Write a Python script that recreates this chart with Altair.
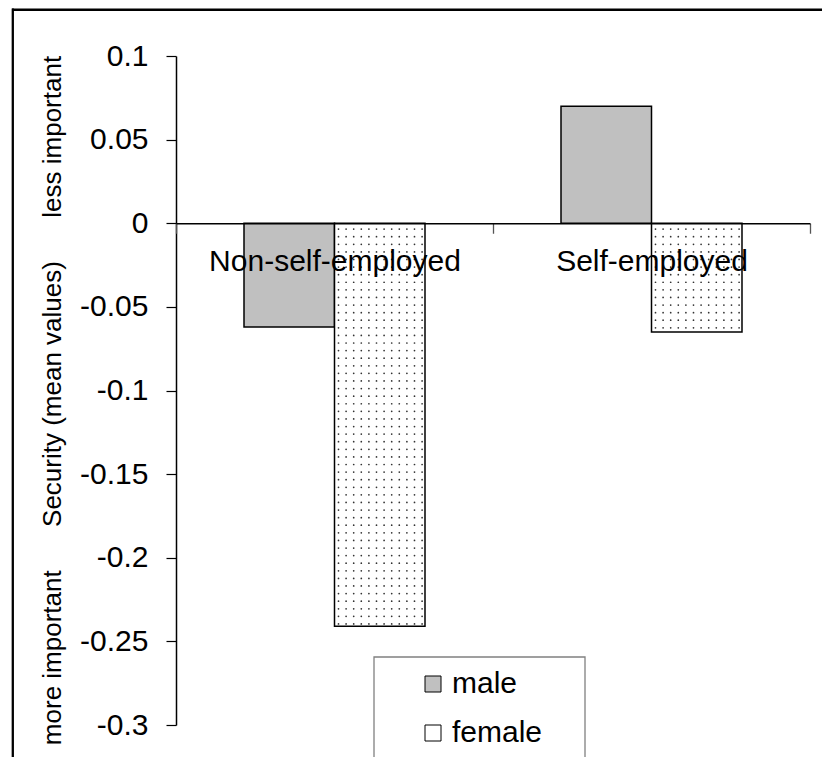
import altair as alt
import pandas as pd

# ---- data ----
groups = ["Non-self-employed", "Self-employed"]
genders = ["male", "female"]
male_values = [-0.062, 0.070]
female_values = [-0.241, -0.065]
y_ticks = [0.1, 0.05, 0, -0.05, -0.1, -0.15, -0.2, -0.25, -0.3]
y_domain = [-0.3, 0.1]

rows = []
for g, m, f in zip(groups, male_values, female_values):
    rows.append({"group": g, "gender": "male", "value": m})
    rows.append({"group": g, "gender": "female", "value": f})
df = pd.DataFrame(rows)

FONT = "Liberation Sans"
W, H = 634, 669
BAND = W / 2
NB = "\u00a0"
title_text = "more important" + NB * 6 + "Security (mean values)" + NB * 6 + "less important"

x_axis = alt.Axis(
    orient="bottom",
    offset=-(H * 0.75),
    title=None,
    labelAngle=0,
    labelFont=FONT,
    labelFontSize=30,
    labelColor="black",
    labelPadding=13,
    labelOverlap=False,
    labelLimit=500,
    tickBand="extent",
    tickSize=10,
    tickColor="#555555",
    tickWidth=1.3,
    domainColor="black",
    domainWidth=1.5,
    zindex=1,
)
x_scale = alt.Scale(paddingInner=0, paddingOuter=0)

y_axis = alt.Axis(
    values=y_ticks,
    labelExpr="'' + datum.value",
    labelFont=FONT,
    labelFontSize=30,
    labelColor="black",
    labelPadding=18,
    tickSize=10,
    tickColor="black",
    tickWidth=1.2,
    domainColor="black",
    domainWidth=1.5,
    grid=False,
    title=title_text,
    titleFont=FONT,
    titleFontSize=26,
    titleFontWeight="normal",
    titleColor="black",
    titleAngle=270,
    titleAlign="center",
    titleBaseline="alphabetic",
    titleX=-116,
    titleY=344,
    titleLimit=900,
)
y_scale = alt.Scale(domain=y_domain, nice=False, zero=False)

bars = alt.Chart(df).mark_bar(stroke="black", strokeWidth=1.5).encode(
    x=alt.X("group:N", sort=groups, scale=x_scale, axis=x_axis),
    xOffset=alt.XOffset("gender:N", sort=genders,
                        scale=alt.Scale(paddingInner=0, paddingOuter=0.7514)),
    y=alt.Y("value:Q", scale=y_scale, axis=y_axis),
    color=alt.Color(
        "gender:N",
        sort=genders,
        scale=alt.Scale(domain=genders, range=["#c0c0c0", "#ffffff"]),
        legend=alt.Legend(
            orient="none",
            legendX=198,
            legendY=601,
            title=None,
            symbolType="square",
            symbolSize=256,
            symbolStrokeColor="black",
            symbolStrokeWidth=1,
            symbolOffset=32,
            labelOffset=4,
            labelFont=FONT,
            labelFontSize=30,
            labelColor="black",
            labelLimit=400,
            padding=12,
            rowPadding=19,
        ),
    ),
)

# dotted fill texture of the female bars
dots = (
    alt.Chart(df)
    .transform_filter(alt.datum.gender == "female")
    .transform_calculate(ys="sequence(-0.0035, datum.value, -0.00454)")
    .transform_flatten(["ys"])
    .transform_calculate(xs="sequence(162.5, 249, 7.6)")
    .transform_flatten(["xs"])
    .mark_circle(size=3, color="#333333", opacity=1)
    .encode(
        x=alt.X("group:N", sort=groups, scale=x_scale, axis=x_axis),
        xOffset=alt.XOffset("xs:Q", scale=alt.Scale(domain=[0, BAND], range=[0, BAND])),
        y=alt.Y("ys:Q", scale=y_scale, axis=y_axis),
    )
)

frame_data = alt.Data(values=[{"k": 1}])
top_line = alt.Chart(frame_data).mark_rule(color="black", strokeWidth=2.5).encode(
    x=alt.value(-164), x2=alt.value(660), y=alt.value(-46.3)
)
left_line = alt.Chart(frame_data).mark_rule(color="black", strokeWidth=2.3).encode(
    x=alt.value(-163.2), y=alt.value(-47.5), y2=alt.value(710)
)
legend_box = alt.Chart(frame_data).mark_rect(
    fill="white", stroke="#808080", strokeWidth=1.3
).encode(
    x=alt.value(198), x2=alt.value(409), y=alt.value(601), y2=alt.value(703)
)

chart = (
    alt.layer(legend_box, bars, dots, top_line, left_line)
    .resolve_scale(xOffset="independent")
    .properties(
        width=W,
        height=H,
        autosize=alt.AutoSizeParams(type="none"),
        padding={"left": 168, "top": 48, "right": 12, "bottom": 32},
        background="white",
    )
    .configure(font=FONT)
    .configure_view(strokeWidth=0)
)

chart.save("out.html", embed_options={"renderer": "svg", "actions": False})
